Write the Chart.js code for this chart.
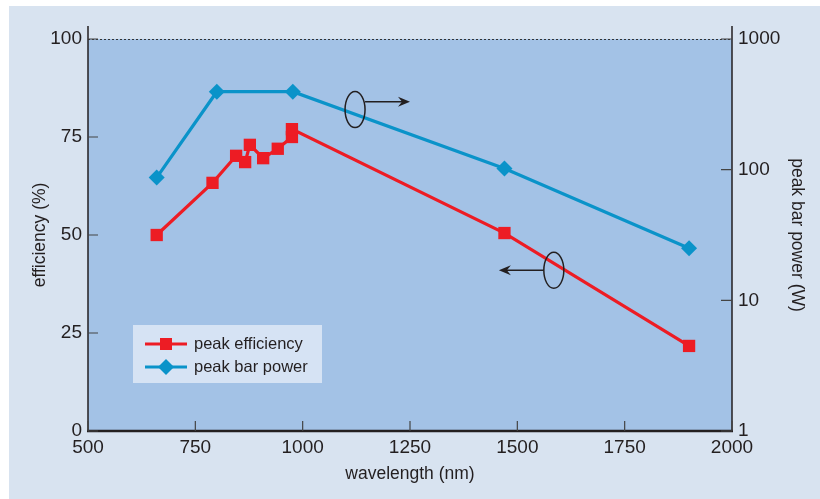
<!DOCTYPE html>
<html>
<head>
<meta charset="utf-8">
<script src="https://cdn.jsdelivr.net/npm/chart.js@4"></script>
<style>
  html, body { margin: 0; padding: 0; background: #fff; }
  #wrap { width: 820px; height: 499px; }
</style>
</head>
<body>
<div id="wrap"><canvas id="myChart" width="820" height="499"></canvas></div>
<script>
// data
const effWavelength = [660, 790, 845, 866, 877, 908, 942, 975, 975, 1470, 1900];
const effValues = [50, 63.3, 70.2, 68.6, 73, 69.6, 72, 75, 77, 50.5, 21.7];
const powerWavelength = [660, 800, 977, 1470, 1900];
const powerValues = [87, 395, 395, 102, 25];
const xTicks = [500, 750, 1000, 1250, 1500, 1750, 2000];
const effTicks = [0, 25, 50, 75, 100];
const powerTicks = [1, 10, 100, 1000];
const seriesNames = ["peak efficiency", "peak bar power"];

const FONT = "'Liberation Sans', Arial, sans-serif";
const TEXT = "#231f20";
const RED = "#ed1c24";
const BLUE = "#0a93c9";

Chart.defaults.font.family = FONT;
Chart.defaults.color = TEXT;

function arrow(ctx, x1, y, x2) {
  let dir = x2 > x1 ? 1 : -1;
  ctx.beginPath();
  ctx.moveTo(x1, y);
  ctx.lineTo(x2 - dir * 6, y);
  ctx.stroke();
  ctx.beginPath();
  ctx.moveTo(x2, y);
  ctx.lineTo(x2 - dir * 12, y - 5);
  ctx.lineTo(x2 - dir * 8, y);
  ctx.lineTo(x2 - dir * 12, y + 5);
  ctx.closePath();
  ctx.fill();
}

const decor = {
  id: "decor",
  beforeDraw(chart) {
    let ctx = chart.ctx;
    let a = chart.chartArea;
    ctx.save();
    ctx.fillStyle = "#d8e3f0";
    ctx.fillRect(9, 6, 811, 493);
    ctx.fillStyle = "#a3c2e6";
    ctx.fillRect(a.left, a.top, a.right - a.left, a.bottom - a.top);
    ctx.restore();
  },
  afterDraw(chart) {
    let ctx = chart.ctx;
    let a = chart.chartArea;
    let sx = chart.scales.x, sy = chart.scales.y, sp = chart.scales.y2;
    ctx.save();
    // dotted top line at 100
    ctx.strokeStyle = "#333";
    ctx.lineWidth = 1;
    ctx.setLineDash([2, 2]);
    ctx.beginPath();
    ctx.moveTo(a.left, sy.getPixelForValue(100) + 0.5);
    ctx.lineTo(a.right, sy.getPixelForValue(100) + 0.5);
    ctx.stroke();
    ctx.setLineDash([]);

    // axis lines
    ctx.strokeStyle = TEXT;
    ctx.lineWidth = 1.5;
    ctx.beginPath();
    ctx.moveTo(a.left, a.top - 13);
    ctx.lineTo(a.left, a.bottom);
    ctx.moveTo(a.right, a.top - 13);
    ctx.lineTo(a.right, a.bottom);
    ctx.stroke();
    ctx.lineWidth = 2.5;
    ctx.beginPath();
    ctx.moveTo(a.left - 1, a.bottom);
    ctx.lineTo(a.right + 1, a.bottom);
    ctx.stroke();

    // inward ticks
    ctx.lineWidth = 1.2;
    ctx.strokeStyle = "#444";
    ctx.beginPath();
    effTicks.forEach(v => {
      let y = sy.getPixelForValue(v);
      ctx.moveTo(a.left, y); ctx.lineTo(a.left + 10, y);
    });
    xTicks.forEach(v => {
      let x = sx.getPixelForValue(v);
      ctx.moveTo(x, a.bottom); ctx.lineTo(x, a.bottom - 10);
    });
    powerTicks.forEach(v => {
      let y = sp.getPixelForValue(v);
      ctx.moveTo(a.right, y); ctx.lineTo(a.right - 11, y);
    });
    ctx.stroke();

    // ellipses with arrows
    ctx.strokeStyle = TEXT;
    ctx.fillStyle = TEXT;
    ctx.lineWidth = 1.5;
    let e1x = sx.getPixelForValue(1122), e1y = sy.getPixelForValue(82);
    ctx.beginPath();
    ctx.ellipse(e1x, e1y, 10, 18, 0, 0, Math.PI * 2);
    ctx.stroke();
    arrow(ctx, e1x + 10, sy.getPixelForValue(84), sx.getPixelForValue(1250));
    let e2x = sx.getPixelForValue(1585), e2y = sy.getPixelForValue(41);
    ctx.beginPath();
    ctx.ellipse(e2x, e2y, 10, 18, 0, 0, Math.PI * 2);
    ctx.stroke();
    arrow(ctx, e2x - 10, e2y, sx.getPixelForValue(1457));

    // legend
    ctx.fillStyle = "#d6e3f4";
    ctx.fillRect(133, 325, 189, 58);
    chart.data.datasets.forEach((ds, i) => {
      let y = 344 + i * 23;
      ctx.strokeStyle = ds.borderColor;
      ctx.lineWidth = 3;
      ctx.beginPath();
      ctx.moveTo(145, y); ctx.lineTo(187, y);
      ctx.stroke();
      ctx.fillStyle = ds.backgroundColor;
      ctx.beginPath();
      if (ds.pointStyle === "rect") {
        ctx.rect(160, y - 6, 12, 12);
      } else {
        ctx.moveTo(166, y - 8); ctx.lineTo(174, y); ctx.lineTo(166, y + 8); ctx.lineTo(158, y);
        ctx.closePath();
      }
      ctx.fill();
      ctx.fillStyle = TEXT;
      ctx.font = "16.5px " + FONT;
      ctx.textBaseline = "middle";
      ctx.fillText(ds.label, 194, y);
    });
    ctx.restore();
  }
};

let ctx = document.getElementById("myChart").getContext("2d");
let chart = new Chart(ctx, {
  type: "line",
  data: {
    datasets: [
      {
        label: seriesNames[0],
        data: effWavelength.map((w, i) => ({ x: w, y: effValues[i] })),
        borderColor: RED,
        backgroundColor: RED,
        borderWidth: 3.2,
        pointStyle: "rect",
        pointRadius: 8.7,
        pointBorderWidth: 0,
        yAxisID: "y",
      },
      {
        label: seriesNames[1],
        data: powerWavelength.map((w, i) => ({ x: w, y: powerValues[i] })),
        borderColor: BLUE,
        backgroundColor: BLUE,
        borderWidth: 3.2,
        pointStyle: "rectRot",
        pointRadius: 8,
        pointBorderWidth: 0,
        yAxisID: "y2",
      },
    ],
  },
  options: {
    responsive: false,
    animation: false,
    devicePixelRatio: 1,
    layout: { padding: { top: 39, left: 0, right: 0, bottom: 0 } },
    plugins: { legend: { display: false }, tooltip: { enabled: false } },
    scales: {
      x: {
        type: "linear",
        min: 500,
        max: 2000,
        afterBuildTicks: s => { s.ticks = xTicks.map(v => ({ value: v })); },
        afterFit: s => { s.height = 68; },
        ticks: { font: { size: 19 }, padding: 5, maxRotation: 0, callback: v => String(v) },
        grid: { display: false, drawTicks: false },
        border: { display: false },
        title: { display: true, text: "wavelength (nm)", font: { size: 17.5 }, padding: { top: 0, bottom: 14 } },
      },
      y: {
        position: "left",
        min: 0,
        max: 100,
        afterBuildTicks: s => { s.ticks = effTicks.map(v => ({ value: v })); },
        afterFit: s => { s.width = 88; },
        ticks: { font: { size: 19 }, padding: 6, callback: v => String(v) },
        grid: { display: false, drawTicks: false },
        border: { display: false },
        title: { display: true, text: "efficiency (%)", font: { size: 17.5 }, padding: { top: 30 } },
      },
      y2: {
        type: "logarithmic",
        position: "right",
        min: 1,
        max: 1000,
        afterBuildTicks: s => { s.ticks = powerTicks.map(v => ({ value: v })); },
        afterFit: s => { s.width = 88; },
        ticks: { font: { size: 19 }, padding: 6, callback: v => String(v) },
        grid: { display: false, drawTicks: false },
        border: { display: false },
        title: { display: true, text: "peak bar power (W)", font: { size: 17.5 }, padding: { top: 13 } },
      },
    },
  },
  plugins: [decor],
});
</script>
</body>
</html>
